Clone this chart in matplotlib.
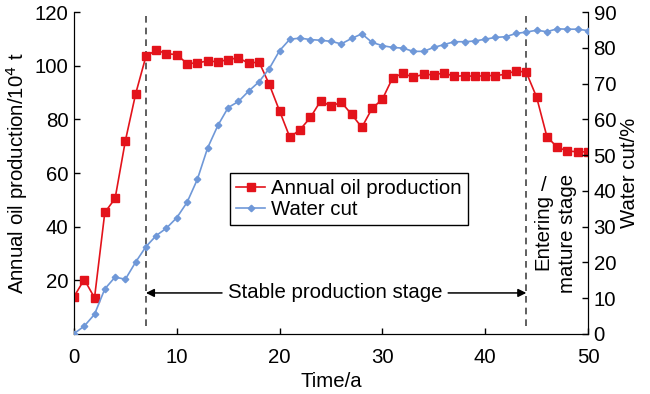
import numpy as np
import matplotlib.pyplot as plt

plt.rcParams['font.family'] = ['Liberation Sans', 'DejaVu Sans']
plt.rcParams['font.size'] = 14.7

years = np.arange(0, 51)
oil = [13.9, 20.3, 13.5, 45.3, 50.5, 72.0, 89.5, 103.5, 105.8, 104.5,
       104.1, 100.8, 101.0, 101.8, 101.4, 102.3, 102.9, 100.9, 101.4, 93.0,
       83.1, 73.3, 76.2, 80.7, 86.9, 84.9, 86.4, 81.9, 77.0, 84.1,
       87.5, 95.5, 97.1, 95.7, 96.8, 96.6, 97.3, 96.0, 96.3, 96.0,
       96.3, 96.3, 96.8, 98.1, 97.5, 88.3, 73.6, 69.6, 68.2, 67.9, 67.9]
water = [0.1, 2.2, 5.5, 12.6, 15.9, 15.3, 20.1, 24.4, 27.5, 29.6,
         32.5, 36.8, 43.2, 52.0, 58.3, 63.3, 65.0, 67.9, 70.5, 74.2,
         79.2, 82.4, 82.7, 82.3, 82.1, 81.8, 81.1, 82.6, 83.9, 81.5,
         80.6, 80.1, 79.9, 79.0, 79.0, 80.1, 80.9, 81.7, 81.7, 81.9,
         82.4, 82.9, 83.1, 84.0, 84.4, 84.9, 84.5, 85.3, 85.2, 85.2, 84.8]
stage_start = 7
stage_end = 44

red = '#E3131B'
blue = '#6F98D8'

fig = plt.figure(figsize=(6.5, 3.94), dpi=100)
ax = fig.add_axes([0.1138, 0.1523, 0.7908, 0.8172])
ax2 = ax.twinx()

l1, = ax.plot(years, oil, '-s', color=red, lw=1.2, ms=5.5, label='Annual oil production', zorder=3)
l2, = ax2.plot(years, water, '-D', color=blue, lw=1.2, ms=3.3, label='Water cut', zorder=3)

ax.set_xlim(0, 50)
ax.set_ylim(0, 120)
ax2.set_ylim(0, 90)
ax.set_xticks(range(0, 51, 10))
ax.set_yticks(range(20, 121, 20))
ax2.set_yticks(range(0, 91, 10))

for a in (ax, ax2):
    a.spines['top'].set_visible(False)
    a.tick_params(direction='in', length=4, width=1, labelsize=14.7, pad=4)
ax.tick_params(axis='x', pad=10)

for xv in (stage_start, stage_end):
    ax.plot([xv, xv], [3, 120], color='#444444', lw=1.2, ls=(0, (4, 3)), zorder=2)

ax.set_xlabel('Time/a', fontsize=14.7, labelpad=4)
ax.set_ylabel('Annual oil production/10$^4$ t', fontsize=14.7, labelpad=3)
ax2.set_ylabel('Water cut/%', fontsize=14.7, labelpad=3)

ax.text(25.4, 15.3, 'Stable production stage', ha='center', va='center', fontsize=14.7)
arrow = dict(arrowstyle='-|>', color='black', lw=1.1, mutation_scale=12, shrinkA=0, shrinkB=0)
ax.annotate('', xy=(stage_start, 15.3), xytext=(14.4, 15.3), arrowprops=arrow)
ax.annotate('', xy=(stage_end, 15.3), xytext=(36.4, 15.3), arrowprops=arrow)

ax.text(45.6, 38.0, 'Entering', rotation=90, ha='center', va='center', fontsize=14.7)
ax.text(45.7, 55.5, '/', ha='center', va='center', fontsize=14.7)
ax.text(48.0, 37.5, 'mature stage', rotation=90, ha='center', va='center', fontsize=14.7)

leg = ax.legend(handles=[l1, l2], loc='center', bbox_to_anchor=(0.535, 0.419),
                fancybox=False, edgecolor='black', framealpha=1, fontsize=14.7,
                handlelength=1.4, handletextpad=0.3, borderpad=0.3, labelspacing=0.1)
leg.get_frame().set_linewidth(1.0)
leg.set_zorder(5)

fig.savefig('out.png', dpi=100)
